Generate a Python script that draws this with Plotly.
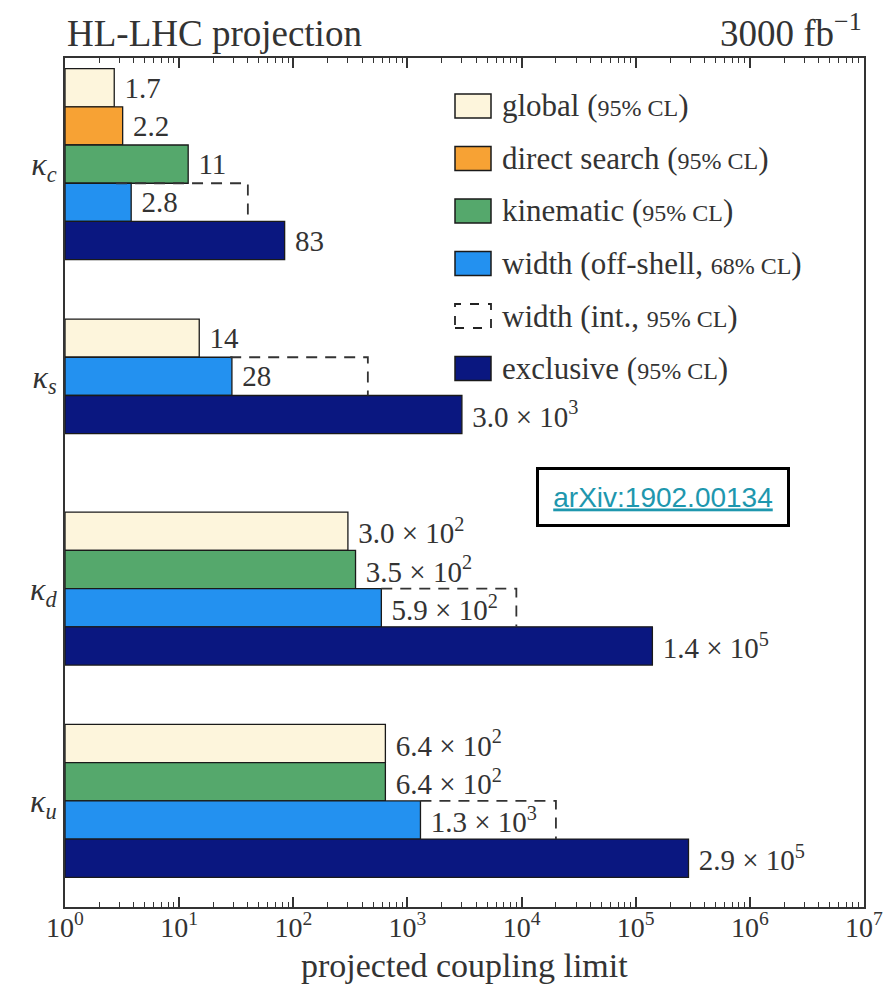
import math
import plotly.graph_objects as go

# ---------------- data ----------------
coupling_labels = ["<i>κ</i><sub><i>c</i></sub>", "<i>κ</i><sub><i>s</i></sub>",
                   "<i>κ</i><sub><i>d</i></sub>", "<i>κ</i><sub><i>u</i></sub>"]
series_names = ["global", "direct search", "kinematic", "width (off-shell)", "exclusive"]
series_legend = ["global (<span style='font-size:24px'>95% CL</span>)",
                 "direct search (<span style='font-size:24px'>95% CL</span>)",
                 "kinematic (<span style='font-size:24px'>95% CL</span>)",
                 "width (off-shell, <span style='font-size:24px'>68% CL</span>)",
                 "width (int., <span style='font-size:24px'>95% CL</span>)",
                 "exclusive (<span style='font-size:24px'>95% CL</span>)"]
global_vals = [1.7, 14, 3.0e2, 6.4e2]
direct_vals = [2.2, None, None, None]
kinematic_vals = [11, None, 3.5e2, 6.4e2]
width_vals = [2.8, 28, 5.9e2, 1.3e3]
width_int_vals = [40, 450, 9.0e3, 2.0e4]
exclusive_vals = [83, 3.0e3, 1.4e5, 2.9e5]
tick_vals = [1, 10, 100, 1e3, 1e4, 1e5, 1e6, 1e7]
tick_text = ["10<sup>0</sup>", "10<sup>1</sup>", "10<sup>2</sup>", "10<sup>3</sup>",
             "10<sup>4</sup>", "10<sup>5</sup>", "10<sup>6</sup>", "10<sup>7</sup>"]

# ---------------- style ----------------
colors = ["#FDF5DC", "#F7A234", "#55A86C", "#2391F0", "#0A1780"]
FONT = "Liberation Serif"
TXT = "#333333"
row_h = 0.18
W, H = 893, 985
L, R, T, B = 57, 37, 50, 86

series_vals = [global_vals, direct_vals, kinematic_vals, width_vals, exclusive_vals]

def fmt(v):
    if v < 100:
        return f"{v:.2g}"
    e = int(math.floor(math.log10(v) + 1e-9))
    m = v / 10 ** e
    return f"{m:.1f} × 10<sup>{e}</sup>"

# y positions within each coupling group
ypos = [[None] * len(coupling_labels) for _ in series_vals]
for g in range(len(coupling_labels)):
    present = [s for s in range(len(series_vals)) if series_vals[s][g] is not None]
    n = len(present)
    for k, s in enumerate(present):
        ypos[s][g] = g + (k - (n - 1) / 2) * row_h

fig = go.Figure()

for s, vals in enumerate(series_vals):
    xs = [v for v in vals if v is not None]
    ys = [ypos[s][g] for g, v in enumerate(vals) if v is not None]
    fig.add_trace(go.Bar(
        x=xs, y=ys, base=1, orientation="h", width=row_h,
        name=series_names[s],
        marker=dict(color=colors[s], line=dict(color="#1a1a1a", width=1.3)),
        text=["\u00a0" + fmt(v) for v in xs],
        textposition="outside", constraintext="none", cliponaxis=False,
        textfont=dict(family=FONT, size=29, color=TXT),
        showlegend=False,
    ))

# dashed outline for width (int.)
dx, dy = [], []
for g, v in enumerate(width_int_vals):
    if v is None:
        continue
    yc = ypos[3][g]
    top, bot = yc - row_h / 2, yc + row_h / 2
    dx += [width_vals[g], v, v, None]
    dy += [top, top, bot, None]
fig.add_trace(go.Scatter(x=dx, y=dy, mode="lines",
                         line=dict(color="#333333", width=1.8, dash="11px,8px"),
                         showlegend=False, hoverinfo="skip"))

# ---------------- custom legend ----------------
pw, ph = W - L - R, H - T - B
def px2x(px):
    return (px - L) / pw
def py2y(py):
    return (H - B - py) / ph

shapes = []
annotations = []
leg_colors = colors[:4] + [None] + colors[4:]
for i, name in enumerate(series_legend):
    yc = 98 + i * 52.5
    if leg_colors[i] is None:
        shapes.append(dict(type="rect", xref="paper", yref="paper",
                           x0=px2x(447), x1=px2x(483), y0=py2y(yc + 12), y1=py2y(yc - 12),
                           line=dict(color="#222", width=1.8, dash="9px,9px"),
                           fillcolor="rgba(0,0,0,0)"))
    else:
        shapes.append(dict(type="rect", xref="paper", yref="paper",
                           x0=px2x(447), x1=px2x(483), y0=py2y(yc + 12), y1=py2y(yc - 12),
                           line=dict(color="#1a1a1a", width=1.5),
                           fillcolor=leg_colors[i]))
    annotations.append(dict(text=name, xref="paper", yref="paper",
                            x=px2x(492), y=py2y(yc), xanchor="left", yanchor="middle",
                            showarrow=False, font=dict(family=FONT, size=31, color=TXT)))

annotations.append(dict(text="HL-LHC projection", xref="paper", yref="paper",
                        x=0, y=1, xanchor="left", yanchor="bottom", yshift=2,
                        showarrow=False, font=dict(family=FONT, size=37, color=TXT)))
annotations.append(dict(text="3000 fb<sup>−1</sup>", xref="paper", yref="paper",
                        x=1, y=1, xanchor="right", yanchor="bottom", yshift=2,
                        showarrow=False, font=dict(family=FONT, size=37, color=TXT)))
annotations.append(dict(text="<u>arXiv:1902.00134</u>", xref="paper", yref="paper",
                        x=px2x(655), y=py2y(489), xanchor="center", yanchor="middle",
                        showarrow=False, width=240, height=46, borderpad=4,
                        bordercolor="#000", borderwidth=3, bgcolor="white",
                        font=dict(family="Liberation Sans", size=28, color="#1E97AE")))
# x-axis title
annotations.append(dict(text="projected coupling limit", xref="paper", yref="paper",
                        x=0.5, y=py2y(957), xanchor="center", yanchor="middle",
                        showarrow=False, font=dict(family=FONT, size=34, color=TXT)))

fig.update_layout(
    width=W, height=H, margin=dict(l=L, r=R, t=T, b=B),
    paper_bgcolor="white", plot_bgcolor="white",
    barmode="overlay", showlegend=False,
    shapes=shapes, annotations=annotations,
    font=dict(family=FONT, color=TXT),
)
fig.update_xaxes(
    type="log", range=[0, 7], tickmode="array", tickvals=tick_vals, ticktext=tick_text,
    ticks="inside", ticklen=10, tickwidth=1.5, tickcolor="#333",
    minor=dict(dtick="D1", ticks="inside", ticklen=5, tickwidth=1, tickcolor="#333", showgrid=False),
    showline=True, linewidth=2, linecolor="#333", mirror="ticks",
    showgrid=False, zeroline=False, automargin=False, ticklabelstandoff=-6,
    tickfont=dict(family=FONT, size=28, color=TXT),
)
fig.update_yaxes(
    range=[3.5, -0.5], tickmode="array", tickvals=[0, 1, 2, 3], ticktext=coupling_labels,
    ticks="", showline=True, linewidth=2, linecolor="#333", mirror=True,
    showgrid=False, zeroline=False, automargin=False,
    tickfont=dict(family=FONT, size=32, color=TXT),
)

fig.write_html("out.html")
